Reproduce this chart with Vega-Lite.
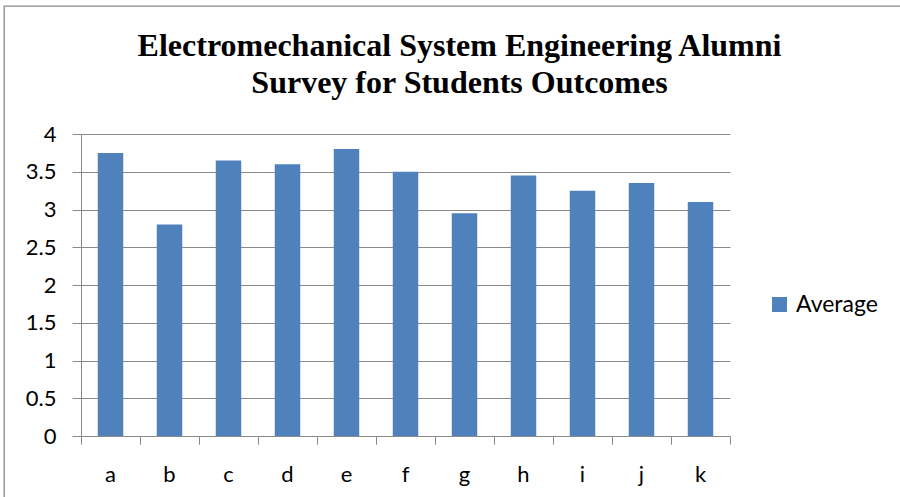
{
  "$schema": "https://vega.github.io/schema/vega-lite/v6.json",
  "width": 916,
  "height": 505,
  "autosize": {"type": "none"},
  "padding": {"left": 4, "top": 6, "right": -20, "bottom": -14},
  "background": "white",
  "title": {
    "text": ["Electromechanical System Engineering Alumni", "Survey for Students Outcomes"],
    "font": "Liberation Serif",
    "fontSize": 32,
    "fontWeight": "bold",
    "color": "black",
    "anchor": "middle",
    "frame": "group",
    "dx": -2.5,
    "offset": -119,
    "baseline": "alphabetic",
    "lineHeight": 37
  },
  "data": {
    "values": [
      {"outcome": "a", "average": 3.75, "series": "Average"},
      {"outcome": "b", "average": 2.8, "series": "Average"},
      {"outcome": "c", "average": 3.65, "series": "Average"},
      {"outcome": "d", "average": 3.6, "series": "Average"},
      {"outcome": "e", "average": 3.8, "series": "Average"},
      {"outcome": "f", "average": 3.5, "series": "Average"},
      {"outcome": "g", "average": 2.95, "series": "Average"},
      {"outcome": "h", "average": 3.45, "series": "Average"},
      {"outcome": "i", "average": 3.25, "series": "Average"},
      {"outcome": "j", "average": 3.35, "series": "Average"},
      {"outcome": "k", "average": 3.1, "series": "Average"}
    ]
  },
  "config": {
    "view": {"stroke": "#8a8a8a", "strokeWidth": 1.3},
    "axis": {
      "labelFont": "Lato",
      "labelFontSize": 22,
      "labelColor": "black",
      "domainColor": "#8a8a8a",
      "tickColor": "#8a8a8a",
      "domainWidth": 1,
      "tickWidth": 1,
      "grid": false,
      "title": null
    }
  },
  "layer": [
    {
      "mark": {"type": "bar", "width": {"band": 0.432}},
      "encoding": {
        "x": {
          "field": "outcome",
          "type": "nominal",
          "scale": {"paddingInner": 0, "paddingOuter": 0, "range": [77, 726]},
          "axis": {
            "orient": "bottom",
            "offset": -75,
            "labelAngle": 0,
            "bandPosition": 0,
            "tickSize": 8,
            "labelPadding": 20
          }
        },
        "y": {
          "field": "average",
          "type": "quantitative",
          "scale": {"domain": [0, 4], "nice": false, "range": [430, 128]},
          "axis": {
            "orient": "left",
            "offset": -77,
            "values": [0, 0.5, 1, 1.5, 2, 2.5, 3, 3.5, 4],
            "format": "~g",
            "tickSize": 9,
            "labelPadding": 16
          }
        },
        "color": {
          "field": "series",
          "type": "nominal",
          "scale": {"domain": ["Average"], "range": ["#4f81bd"]},
          "legend": {
            "title": null,
            "orient": "none",
            "legendX": 764,
            "legendY": 287,
            "symbolType": "square",
            "symbolSize": 225,
            "symbolStrokeWidth": 0,
            "labelFont": "Lato",
            "labelFontSize": 23,
            "labelColor": "black",
            "labelOffset": 5,
            "padding": 0
          }
        }
      }
    },
    {
      "mark": {"type": "bar", "opacity": 0},
      "encoding": {
        "x": {
          "field": "outcome",
          "type": "nominal",
          "axis": {
            "orient": "bottom",
            "offset": -75,
            "bandPosition": 1,
            "labels": false,
            "domain": false,
            "tickSize": 8
          }
        },
        "y": {
          "field": "average",
          "type": "quantitative",
          "axis": {
            "orient": "left",
            "offset": -77,
            "values": [0.5, 1, 1.5, 2, 2.5, 3, 3.5, 4],
            "labels": false,
            "domain": false,
            "tickSize": -649
          }
        }
      }
    }
  ],
  "resolve": {"axis": {"x": "independent", "y": "independent"}}
}
